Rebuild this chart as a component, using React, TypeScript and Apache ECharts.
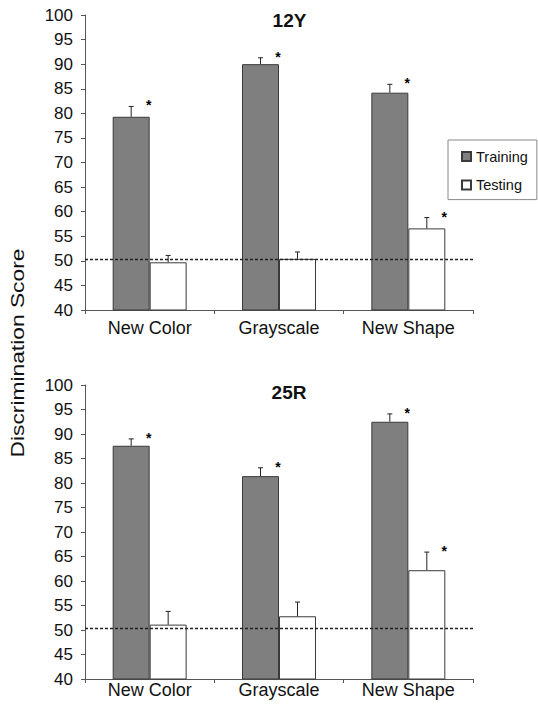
import React, { useEffect, useRef } from "react";
import * as echarts from "echarts";

const categories = ["New Color", "Grayscale", "New Shape"];
const panelTitles = ["12Y", "25R"];

const training12Y = [79.3, 90.0, 84.2];
const training12YErr = [2.1, 1.3, 1.7];
const training12YSig = [1, 1, 1];
const testing12Y = [49.7, 50.4, 56.6];
const testing12YErr = [1.4, 1.4, 2.2];
const testing12YSig = [0, 0, 1];

const training25R = [87.6, 81.4, 92.5];
const training25RErr = [1.4, 1.7, 1.6];
const training25RSig = [1, 1, 1];
const testing25R = [51.1, 52.8, 62.2];
const testing25RErr = [2.7, 2.9, 3.7];
const testing25RSig = [0, 0, 1];

const chanceLevel = 50.4;
const yMin = 40;
const yMax = 100;
const yInterval = 5;

const BAR_FRAC = 0.286;
const FONT = "'Liberation Sans', Arial, sans-serif";

function errRender(offset: number) {
  return (params: any, api: any) => {
    const idx = api.value(0);
    const v = api.value(1);
    const e = api.value(2);
    const sig = api.value(3);
    const base = api.coord([idx, v]);
    const top = api.coord([idx, v + e]);
    const band = api.size([1, 0])[0];
    const bw = band * BAR_FRAC;
    const x = base[0] + (offset * bw) / 2;
    const children: any[] = [
      {
        type: "line",
        shape: { x1: x, y1: base[1], x2: x, y2: top[1] },
        style: { stroke: "#222", lineWidth: 1 },
      },
      {
        type: "line",
        shape: { x1: x - 2.5, y1: top[1], x2: x + 2.5, y2: top[1] },
        style: { stroke: "#222", lineWidth: 1 },
      },
    ];
    if (sig) {
      const right = x + bw / 2;
      children.push({
        type: "text",
        x: right - 1,
        y: top[1] - 1,
        style: {
          text: "*",
          fontSize: 14,
          fontWeight: "bold",
          fontFamily: FONT,
          fill: "#000",
          align: "center",
          verticalAlign: "middle",
        },
      });
    }
    return { type: "group", children };
  };
}

function errData(vals: number[], errs: number[], sig: number[]) {
  return vals.map((v, i) => [i, v, errs[i], sig[i]]);
}

export default function App() {
  const ref = useRef<HTMLDivElement>(null);
  useEffect(() => {
    if (!ref.current) return;
    const chart = echarts.init(ref.current, null, { renderer: "svg" });

    const grids = [
      { left: 85, top: 15, width: 388, height: 295 },
      { left: 85, top: 385, width: 388, height: 294 },
    ];
    const labelMargins = [9, 2];

    const xAxes = grids.map((_, gi) => ({
      type: "category",
      gridIndex: gi,
      data: categories,
      axisLine: { show: true, lineStyle: { color: "#555", width: 1 } },
      axisTick: { show: true, length: 4, inside: false, lineStyle: { color: "#555" } },
      axisLabel: { color: "#111", fontSize: 18, fontFamily: FONT, margin: labelMargins[gi] },
      splitLine: { show: false },
    }));
    const yAxes = grids.map((_, gi) => ({
      type: "value",
      gridIndex: gi,
      min: yMin,
      max: yMax,
      interval: yInterval,
      axisLine: { show: true, lineStyle: { color: "#555", width: 1 } },
      axisTick: { show: true, length: 4, inside: false, lineStyle: { color: "#555" } },
      axisLabel: { color: "#111", fontSize: 17, fontFamily: FONT, margin: 12 },
      splitLine: { show: false },
    }));

    const trainingStyle = { color: "#7f7f7f", borderColor: "#3a3a3a", borderWidth: 1 };
    const testingStyle = { color: "#ffffff", borderColor: "#3a3a3a", borderWidth: 1 };

    const panels = [
      {
        tr: training12Y, trE: training12YErr, trS: training12YSig,
        te: testing12Y, teE: testing12YErr, teS: testing12YSig,
      },
      {
        tr: training25R, trE: training25RErr, trS: training25RSig,
        te: testing25R, teE: testing25RErr, teS: testing25RSig,
      },
    ];

    const series: any[] = [];
    panels.forEach((p, gi) => {
      series.push({
        type: "bar",
        name: "Training",
        xAxisIndex: gi,
        yAxisIndex: gi,
        data: p.tr,
        barWidth: BAR_FRAC * 100 + "%",
        barGap: "0%",
        itemStyle: trainingStyle,
        markLine: {
          silent: true,
          symbol: "none",
          label: { show: false },
          lineStyle: { color: "#222", type: [3, 2], width: 1.3 },
          data: [{ yAxis: chanceLevel }],
        },
      });
      series.push({
        type: "bar",
        name: "Testing",
        xAxisIndex: gi,
        yAxisIndex: gi,
        data: p.te,
        barWidth: BAR_FRAC * 100 + "%",
        barGap: "0%",
        itemStyle: testingStyle,
      });
      series.push({
        type: "custom",
        name: "trainingErr" + gi,
        xAxisIndex: gi,
        yAxisIndex: gi,
        z: 5,
        renderItem: errRender(-1),
        data: errData(p.tr, p.trE, p.trS),
      });
      series.push({
        type: "custom",
        name: "testingErr" + gi,
        xAxisIndex: gi,
        yAxisIndex: gi,
        z: 5,
        renderItem: errRender(1),
        data: errData(p.te, p.teE, p.teS),
      });
    });

    chart.setOption({
      animation: false,
      backgroundColor: "#ffffff",
      textStyle: { fontFamily: FONT },
      title: [
        {
          text: panelTitles[0],
          left: 289.5,
          top: 11,
          textAlign: "center",
          padding: 0,
          textStyle: { fontSize: 19, fontWeight: "bold", color: "#111", fontFamily: FONT },
        },
        {
          text: panelTitles[1],
          left: 289,
          top: 383,
          textAlign: "center",
          padding: 0,
          textStyle: { fontSize: 19, fontWeight: "bold", color: "#111", fontFamily: FONT },
        },
      ],
      legend: {
        data: ["Training", "Testing"],
        orient: "vertical",
        left: 448,
        top: 140,
        padding: [9, 9, 7, 13],
        itemWidth: 9,
        itemHeight: 9,
        itemGap: 13.6,
        icon: "rect",
        borderColor: "#888",
        borderWidth: 1,
        selectedMode: false,
        textStyle: { fontSize: 14.5, color: "#111", fontFamily: FONT, lineHeight: 14 },
      },
      grid: grids,
      xAxis: xAxes,
      yAxis: yAxes,
      series,
      graphic: [
        {
          type: "text",
          x: 17,
          y: 353,
          rotation: Math.PI / 2,
          scaleX: 1.2,
          style: {
            text: "Discrimination Score",
            fontSize: 19,
            fontFamily: FONT,
            fill: "#111",
            align: "center",
            verticalAlign: "middle",
          },
        },
      ],
    });
    return () => chart.dispose();
  }, []);
  return (
    <div
      ref={ref}
      style={{ position: "absolute", left: 0, top: 0, width: 538, height: 708 }}
    />
  );
}
